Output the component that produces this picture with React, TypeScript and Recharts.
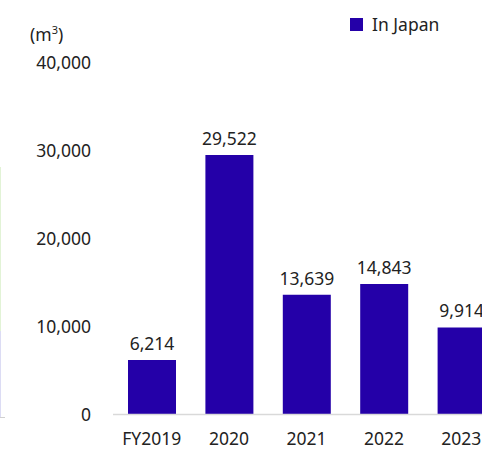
import React from "react";
import { BarChart, Bar, XAxis, YAxis, LabelList } from "recharts";

const categories = ["FY2019", "2020", "2021", "2022", "2023"];
const inJapan = [6214, 29522, 13639, 14843, 9914];
const yTicks = [0, 10000, 20000, 30000, 40000];
const seriesName = "In Japan";
const unitLabel = "(m";

const data = categories.map((c, i) => ({ name: c, inJapan: inJapan[i] }));

const FONT = "'Noto Sans', sans-serif";
const FS = 17.5;
const BAR = "#2400a8";

const fmt = (v: number) => v.toLocaleString("en-US");

export default function App() {
  return (
    <div
      style={{
        position: "absolute",
        left: 0,
        top: 0,
        width: 482,
        height: 451,
        overflow: "hidden",
        background: "#fff",
      }}
    >
      <div style={{ position: "absolute", left: 0, top: 167, width: 1, height: 164, background: "#e2f3d6" }} />
      <div style={{ position: "absolute", left: 0, top: 331, width: 1, height: 86, background: "#dcdcf4" }} />
      <div style={{ position: "absolute", left: 0, top: 417, width: 5, height: 1, background: "#d0d0d0" }} />
      <div
        style={{
          position: "absolute",
          left: 30,
          top: 22,
          fontFamily: FONT,
          fontSize: FS,
          color: "#222",
          zIndex: 2,
        }}
      >
        {unitLabel}
        <sup style={{ fontSize: 11 }}>3</sup>)
      </div>
      <div
        style={{
          position: "absolute",
          left: 350,
          top: 12,
          display: "flex",
          alignItems: "center",
          fontFamily: FONT,
          fontSize: FS,
          color: "#222",
          zIndex: 2,
        }}
      >
        <span style={{ display: "inline-block", width: 13, height: 13, background: BAR, marginRight: 9 }} />
        <span>{seriesName}</span>
      </div>
      <BarChart
        width={500}
        height={451}
        data={data}
        margin={{ top: 63, right: 0, bottom: 6.5, left: 0 }}
        barSize={48}
      >
        <XAxis
          dataKey="name"
          axisLine={{ stroke: "#d9d9d9", strokeWidth: 1.5 }}
          tickLine={false}
          tickMargin={12}
          height={30}
          interval={0}
          tick={{ fontFamily: FONT, fontSize: FS, fill: "#222" }}
        />
        <YAxis
          domain={[0, 40000]}
          ticks={yTicks}
          width={113}
          axisLine={false}
          tickLine={false}
          tickMargin={16}
          tickFormatter={fmt}
          tick={{ fontFamily: FONT, fontSize: FS, fill: "#222" }}
        />
        <Bar dataKey="inJapan" name={seriesName} fill={BAR} isAnimationActive={false}>
          <LabelList
            dataKey="inJapan"
            position="top"
            offset={10}
            formatter={(v: any) => fmt(Number(v))}
            style={{ fontFamily: FONT, fontSize: FS, fill: "#222" }}
          />
        </Bar>
      </BarChart>
    </div>
  );
}
